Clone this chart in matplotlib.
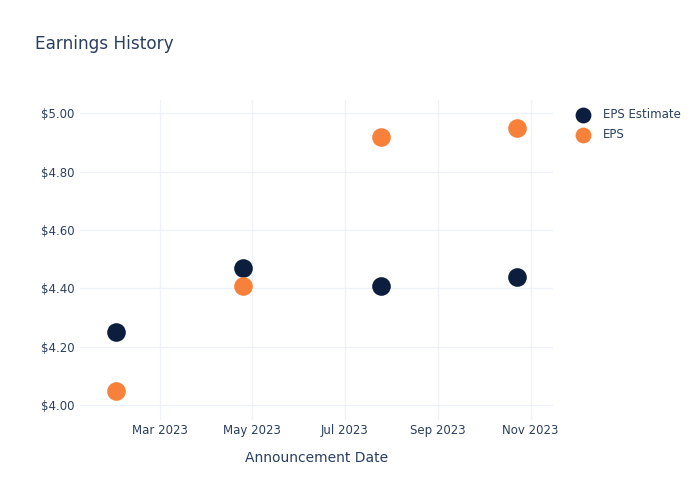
import matplotlib
matplotlib.use("Agg")
import matplotlib.pyplot as plt
import matplotlib.dates as mdates
import numpy as np
from datetime import datetime

# data
dates = ["2023-01-31", "2023-04-25", "2023-07-25", "2023-10-23"]
eps_estimate = [4.25, 4.47, 4.41, 4.44]
eps_actual = [4.05, 4.41, 4.92, 4.95]
y_ticks = [4.0, 4.2, 4.4, 4.6, 4.8, 5.0]
x_ticks = ["2023-03-01", "2023-05-01", "2023-07-01", "2023-09-01", "2023-11-01"]

txt = "#2a3f5f"
grid = "#eef2f8"
navy = "#0b1e3e"
orange = "#f7813a"

d = [datetime.strptime(s, "%Y-%m-%d") for s in dates]
xt = [datetime.strptime(s, "%Y-%m-%d") for s in x_ticks]

fig = plt.figure(figsize=(7, 5), dpi=100)
ax = fig.add_axes([0.1143, 0.16, 0.676, 0.64])

ax.scatter(d, eps_estimate, s=180, color=navy, label="EPS Estimate", zorder=3, linewidths=0)
ax.scatter(d, eps_actual, s=180, color=orange, label="EPS", zorder=3, linewidths=0)

ax.set_xlim(datetime(2023, 1, 7), datetime(2023, 11, 16))
ax.set_ylim(3.95, 5.045)
ax.set_xticks(xt)
ax.xaxis.set_major_formatter(mdates.DateFormatter("%b %Y"))
ax.set_yticks(y_ticks)
ax.set_yticklabels(["$%.2f" % v for v in y_ticks])

ax.grid(True, color=grid, linewidth=0.9, zorder=0)
for s in ax.spines.values():
    s.set_visible(False)
ax.tick_params(axis="x", length=0, labelcolor=txt, labelsize=8.5, pad=3)
ax.tick_params(axis="y", length=0, labelcolor=txt, labelsize=8.5, pad=4)
ax.set_xlabel("Announcement Date", color=txt, fontsize=10, labelpad=10)

fig.text(0.05, 0.912, "Earnings History", color=txt, fontsize=12.2, ha="left", va="center")

leg = ax.legend(loc="upper left", bbox_to_anchor=(1.027, 0.99), frameon=False,
                fontsize=8.5, handletextpad=0.75, labelspacing=0.6, borderaxespad=0,
                markerscale=0.85)
for t in leg.get_texts():
    t.set_color(txt)

fig.savefig("out.png", dpi=100)
